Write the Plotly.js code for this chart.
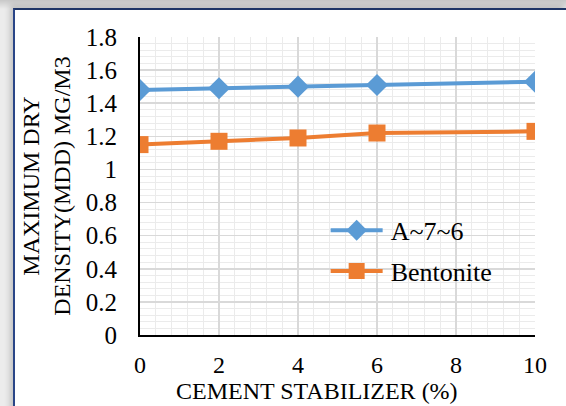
<!DOCTYPE html>
<html>
<head>
<meta charset="utf-8">
<script src="https://cdn.plot.ly/plotly-3.0.1.min.js"></script>
<style>
  html, body { margin: 0; padding: 0; width: 566px; height: 406px; overflow: hidden; }
  body { background: linear-gradient(#c8c8c8, #ececec 9px); position: relative; }
  #frame { position: absolute; left: 13px; top: 8px; width: 551px; height: 410px;
           background: #ffffff; border-left: 2px solid #2a4587; border-top: 2px solid #1f3566;
           border-right: 1px solid #c8c8c8;
           box-shadow: -3px -3px 6px rgba(0,0,0,0.18); }
  #chart { position: absolute; left: 0; top: 0; width: 566px; height: 406px; }
</style>
</head>
<body>
<div id="frame"></div>
<div id="chart"></div>
<script>
const cementPct = [0, 2, 4, 6, 10];
const a76 = [1.48, 1.49, 1.50, 1.51, 1.53];
const bentonite = [1.15, 1.17, 1.19, 1.22, 1.23];

const font = '"Liberation Serif", "DejaVu Serif", serif';

const traces = [
  { x: cementPct, y: a76, name: 'A~7~6', type: 'scatter', mode: 'lines+markers', legendgroup: 'a',
    line: { color: '#5b9bd5', width: 4 },
    marker: { symbol: 'diamond', size: 17, color: '#5b9bd5' } },
  { x: cementPct, y: bentonite, name: 'Bentonite', type: 'scatter', mode: 'lines+markers', legendgroup: 'b',
    line: { color: '#ed7d31', width: 4 },
    marker: { symbol: 'square', size: 17, color: '#ed7d31' } }
];

const layout = {
  width: 566, height: 406,
  paper_bgcolor: 'rgba(0,0,0,0)', plot_bgcolor: '#ffffff',
  margin: { l: 140, r: 31, t: 37, b: 71 },
  font: { family: font, size: 24, color: '#000000' },
  showlegend: true,
  legend: { x: 0.47, y: 0.43, xanchor: 'left', yanchor: 'top', bgcolor: 'rgba(0,0,0,0)',
            font: { family: font, size: 26, color: '#000' }, traceorder: 'grouped',
            tracegroupgap: 4, itemwidth: 55 },
  annotations: [
    { text: 'CEMENT STABILIZER (%)', xref: 'paper', yref: 'paper', x: 0.448, y: -0.188,
      xanchor: 'center', yanchor: 'middle', showarrow: false,
      font: { family: font, size: 24, color: '#000' } }
  ],
  xaxis: {
    range: [0, 10], dtick: 2, tick0: 0, showline: true, linecolor: '#000', linewidth: 2,
    showgrid: true, gridcolor: '#d9d9d9', gridwidth: 1.5, zeroline: false, ticks: '',
    minor: { dtick: 0.4, showgrid: true, gridcolor: '#ebebeb', gridwidth: 1 },
    tickfont: { family: font, size: 24, color: '#000' }, ticklabelstandoff: 7,
    automargin: false
  },
  yaxis: {
    range: [0, 1.8], dtick: 0.2, tick0: 0, showline: true, linecolor: '#000', linewidth: 2,
    showgrid: true, gridcolor: '#d9d9d9', gridwidth: 1.5, zeroline: false, ticks: '',
    minor: { dtick: 0.04, showgrid: true, gridcolor: '#ebebeb', gridwidth: 1 },
    tickfont: { family: font, size: 25, color: '#000' }, ticklabelstandoff: 16,
    title: { text: 'MAXIMUM DRY<br>DENSITY(MDD) MG/M3', font: { family: font, size: 24, color: '#000' }, standoff: 8 },
    automargin: false
  }
};

Plotly.newPlot('chart', traces, layout, { displayModeBar: false, staticPlot: true }).then(function (gd) {
  // lengthen the legend sample lines to match the reference
  gd.querySelectorAll('.legend .traces').forEach(function (g) {
    g.querySelectorAll('.legendlines path').forEach(function (p) { p.setAttribute('d', 'M5,0h52'); });
    g.querySelectorAll('.legendpoints path').forEach(function (p) { p.setAttribute('transform', 'translate(31,0)'); });
  });
});
</script>
</body>
</html>
